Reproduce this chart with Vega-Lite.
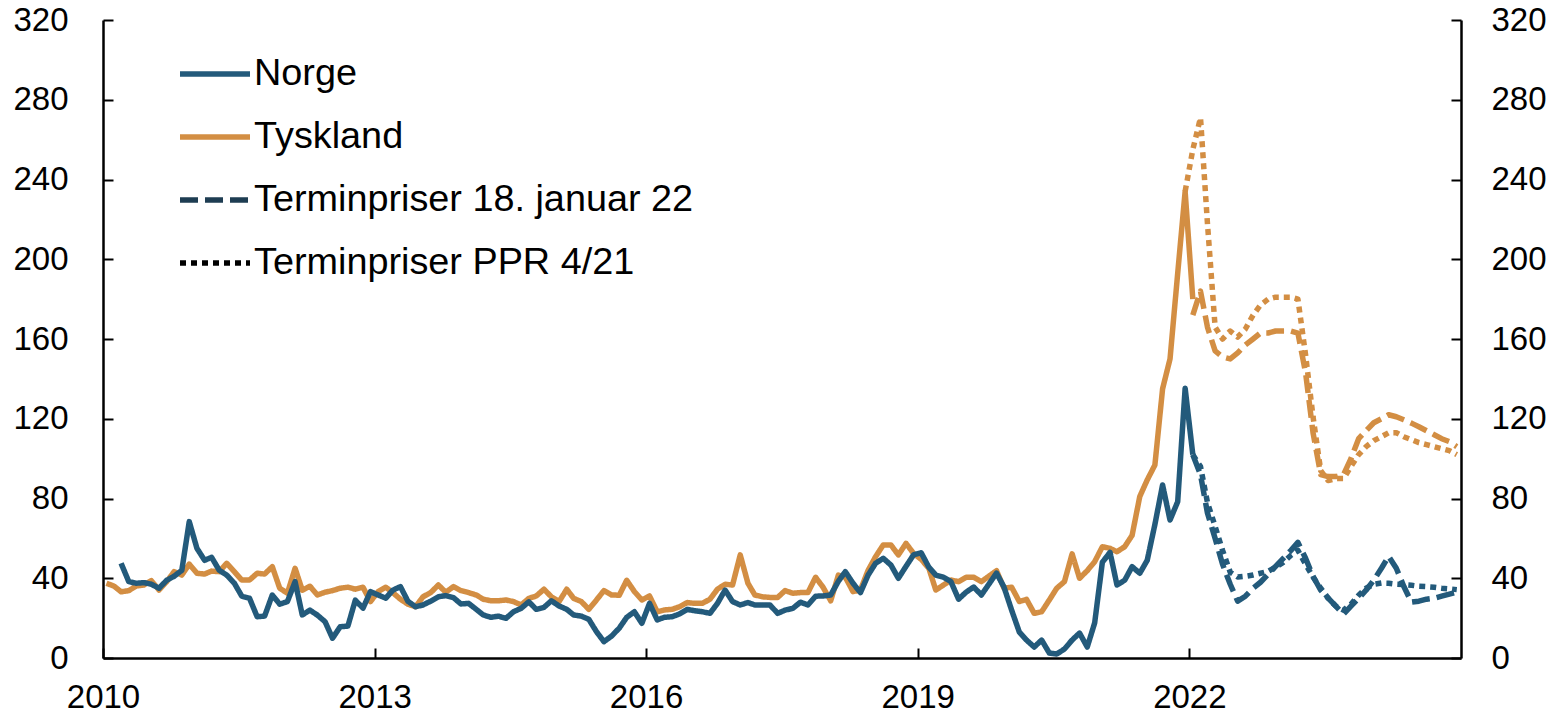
{
"$schema": "https://vega.github.io/schema/vega-lite/v6.json",
"width": 1358, "height": 638,
"autosize": {"type": "none"},
"padding": {"left": 103, "top": 20, "right": 98, "bottom": 59},
"background": "white",
"config": {"view": {"stroke": null}, "font": "Liberation Sans"},
"datasets": {"map": [
 {"key": "Norge", "land": "Norge", "kat": "Norge"},
 {"key": "Tyskland", "land": "Tyskland", "kat": "Tyskland"},
 {"key": "NO_jan", "land": "Norge", "kat": "Terminpriser 18. januar 22"},
 {"key": "DE_jan", "land": "Tyskland", "kat": "Terminpriser 18. januar 22"},
 {"key": "NO_ppr", "land": "Norge", "kat": "Terminpriser PPR 4/21"},
 {"key": "DE_ppr", "land": "Tyskland", "kat": "Terminpriser PPR 4/21"}
]},
"data": {"values": [
{"d":"2010-01-15","Tyskland":37.5},
{"d":"2010-02-15","Tyskland":36},
{"d":"2010-03-15","Norge":47.5,"Tyskland":33.2},
{"d":"2010-04-15","Norge":38.3,"Tyskland":33.8},
{"d":"2010-05-15","Norge":37.5,"Tyskland":36.1},
{"d":"2010-06-15","Norge":37.8,"Tyskland":36.6},
{"d":"2010-07-15","Norge":37,"Tyskland":38.8},
{"d":"2010-08-15","Norge":35,"Tyskland":34.1},
{"d":"2010-09-15","Norge":39,"Tyskland":38.3},
{"d":"2010-10-15","Norge":41,"Tyskland":43.3},
{"d":"2010-11-15","Norge":44,"Tyskland":41.6},
{"d":"2010-12-15","Norge":68.4,"Tyskland":47.1},
{"d":"2011-01-15","Norge":55,"Tyskland":42.5},
{"d":"2011-02-15","Norge":49,"Tyskland":42.1},
{"d":"2011-03-15","Norge":50.5,"Tyskland":43.6},
{"d":"2011-04-15","Norge":44,"Tyskland":43.3},
{"d":"2011-05-15","Norge":41.6,"Tyskland":47.5},
{"d":"2011-06-15","Norge":37.5,"Tyskland":43.3},
{"d":"2011-07-15","Norge":31,"Tyskland":39.1},
{"d":"2011-08-15","Norge":30,"Tyskland":39.1},
{"d":"2011-09-15","Norge":20.7,"Tyskland":42.5},
{"d":"2011-10-15","Norge":21,"Tyskland":42.1},
{"d":"2011-11-15","Norge":31.6,"Tyskland":45.8},
{"d":"2011-12-15","Norge":27,"Tyskland":35},
{"d":"2012-01-15","Norge":28.3,"Tyskland":32.5},
{"d":"2012-02-15","Norge":38.3,"Tyskland":45},
{"d":"2012-03-15","Norge":21.6,"Tyskland":34},
{"d":"2012-04-15","Norge":24,"Tyskland":36},
{"d":"2012-05-15","Norge":21.5,"Tyskland":31.6},
{"d":"2012-06-15","Norge":18.2,"Tyskland":33},
{"d":"2012-07-15","Norge":9.9,"Tyskland":33.8},
{"d":"2012-08-15","Norge":15.7,"Tyskland":35},
{"d":"2012-09-15","Norge":16,"Tyskland":35.5},
{"d":"2012-10-15","Norge":29,"Tyskland":34.5},
{"d":"2012-11-15","Norge":25,"Tyskland":35.5},
{"d":"2012-12-15","Norge":33.3,"Tyskland":28.3},
{"d":"2013-01-15","Norge":31.6,"Tyskland":33.3},
{"d":"2013-02-15","Norge":30,"Tyskland":35.5},
{"d":"2013-03-15","Norge":34,"Tyskland":32.8},
{"d":"2013-04-15","Norge":35.8,"Tyskland":29.5},
{"d":"2013-05-15","Norge":28.5,"Tyskland":27},
{"d":"2013-06-15","Norge":25.7,"Tyskland":25.7},
{"d":"2013-07-15","Norge":26.6,"Tyskland":30.7},
{"d":"2013-08-15","Norge":28.5,"Tyskland":32.8},
{"d":"2013-09-15","Norge":30.7,"Tyskland":36.6},
{"d":"2013-10-15","Norge":31.3,"Tyskland":33},
{"d":"2013-11-15","Norge":30.3,"Tyskland":35.8},
{"d":"2013-12-15","Norge":27.1,"Tyskland":33.8},
{"d":"2014-01-15","Norge":27.4,"Tyskland":32.8},
{"d":"2014-02-15","Norge":24.4,"Tyskland":31.6},
{"d":"2014-03-15","Norge":21.6,"Tyskland":29.5},
{"d":"2014-04-15","Norge":20.4,"Tyskland":28.7},
{"d":"2014-05-15","Norge":21,"Tyskland":28.7},
{"d":"2014-06-15","Norge":19.9,"Tyskland":29.1},
{"d":"2014-07-15","Norge":23.2,"Tyskland":28.3},
{"d":"2014-08-15","Norge":24.9,"Tyskland":26.6},
{"d":"2014-09-15","Norge":28.2,"Tyskland":29.9},
{"d":"2014-10-15","Norge":24.4,"Tyskland":31.1},
{"d":"2014-11-15","Norge":25.4,"Tyskland":34.5},
{"d":"2014-12-15","Norge":28.7,"Tyskland":30.7},
{"d":"2015-01-15","Norge":26.1,"Tyskland":28.3},
{"d":"2015-02-15","Norge":24.4,"Tyskland":34.5},
{"d":"2015-03-15","Norge":21.6,"Tyskland":29.9},
{"d":"2015-04-15","Norge":21,"Tyskland":28.3},
{"d":"2015-05-15","Norge":19.4,"Tyskland":24.4},
{"d":"2015-06-15","Norge":13.2,"Tyskland":29.1},
{"d":"2015-07-15","Norge":8.2,"Tyskland":33.8},
{"d":"2015-08-15","Norge":11,"Tyskland":31.6},
{"d":"2015-09-15","Norge":15,"Tyskland":31.5},
{"d":"2015-10-15","Norge":20.4,"Tyskland":39},
{"d":"2015-11-15","Norge":23.2,"Tyskland":33.3},
{"d":"2015-12-15","Norge":17.4,"Tyskland":29.1},
{"d":"2016-01-15","Norge":27.4,"Tyskland":31.1},
{"d":"2016-02-15","Norge":19.1,"Tyskland":23.2},
{"d":"2016-03-15","Norge":20.4,"Tyskland":24.1},
{"d":"2016-04-15","Norge":20.7,"Tyskland":24.4},
{"d":"2016-05-15","Norge":22.1,"Tyskland":25.7},
{"d":"2016-06-15","Norge":24.4,"Tyskland":27.8},
{"d":"2016-07-15","Norge":23.7,"Tyskland":27.4},
{"d":"2016-08-15","Norge":23.2,"Tyskland":27.4},
{"d":"2016-09-15","Norge":22.4,"Tyskland":29.5},
{"d":"2016-10-15","Norge":27.4,"Tyskland":34.5},
{"d":"2016-11-15","Norge":34.1,"Tyskland":37},
{"d":"2016-12-15","Norge":28.3,"Tyskland":36.6},
{"d":"2017-01-15","Norge":26.6,"Tyskland":51.7},
{"d":"2017-02-15","Norge":27.8,"Tyskland":37.5},
{"d":"2017-03-15","Norge":26.6,"Tyskland":31.6},
{"d":"2017-04-15","Norge":26.6,"Tyskland":30.7},
{"d":"2017-05-15","Norge":26.6,"Tyskland":30.4},
{"d":"2017-06-15","Norge":22.4,"Tyskland":30.4},
{"d":"2017-07-15","Norge":24,"Tyskland":33.8},
{"d":"2017-08-15","Norge":24.9,"Tyskland":32.5},
{"d":"2017-09-15","Norge":28,"Tyskland":32.8},
{"d":"2017-10-15","Norge":26.6,"Tyskland":32.8},
{"d":"2017-11-15","Norge":31,"Tyskland":40.5},
{"d":"2017-12-15","Norge":31.1,"Tyskland":35.5},
{"d":"2018-01-15","Norge":31.6,"Tyskland":28.7},
{"d":"2018-02-15","Norge":38.5,"Tyskland":41.6},
{"d":"2018-03-15","Norge":43.3,"Tyskland":40.5},
{"d":"2018-04-15","Norge":37.5,"Tyskland":33.3},
{"d":"2018-05-15","Norge":32.8,"Tyskland":34.1},
{"d":"2018-06-15","Norge":41.6,"Tyskland":44},
{"d":"2018-07-15","Norge":47.5,"Tyskland":50.8},
{"d":"2018-08-15","Norge":50,"Tyskland":56.7},
{"d":"2018-09-15","Norge":46.6,"Tyskland":56.7},
{"d":"2018-10-15","Norge":40,"Tyskland":51.7},
{"d":"2018-11-15","Norge":46,"Tyskland":57.5},
{"d":"2018-12-15","Norge":51.7,"Tyskland":52.5},
{"d":"2019-01-15","Norge":52.8,"Tyskland":49.5},
{"d":"2019-02-15","Norge":45.5,"Tyskland":45},
{"d":"2019-03-15","Norge":41.6,"Tyskland":34.1},
{"d":"2019-04-15","Norge":40.5,"Tyskland":36.6},
{"d":"2019-05-15","Norge":38.3,"Tyskland":39.1},
{"d":"2019-06-15","Norge":29.5,"Tyskland":38.3},
{"d":"2019-07-15","Norge":33,"Tyskland":40.5},
{"d":"2019-08-15","Norge":35.6,"Tyskland":40.5},
{"d":"2019-09-15","Norge":31.6,"Tyskland":38.3},
{"d":"2019-10-15","Norge":37,"Tyskland":41},
{"d":"2019-11-15","Norge":42.6,"Tyskland":43.8},
{"d":"2019-12-15","Norge":35.6,"Tyskland":35},
{"d":"2020-01-15","Norge":24,"Tyskland":35.5},
{"d":"2020-02-15","Norge":13,"Tyskland":28.3},
{"d":"2020-03-15","Norge":9,"Tyskland":29.4},
{"d":"2020-04-15","Norge":5.5,"Tyskland":22.4},
{"d":"2020-05-15","Norge":9,"Tyskland":23.2},
{"d":"2020-06-15","Norge":2.5,"Tyskland":29.1},
{"d":"2020-07-15","Norge":2,"Tyskland":35},
{"d":"2020-08-15","Norge":4.5,"Tyskland":38.3},
{"d":"2020-09-15","Norge":9,"Tyskland":52.2},
{"d":"2020-10-15","Norge":12.5,"Tyskland":40},
{"d":"2020-11-15","Norge":5.5,"Tyskland":43.8},
{"d":"2020-12-15","Norge":17.6,"Tyskland":48.3},
{"d":"2021-01-15","Norge":48,"Tyskland":55.8},
{"d":"2021-02-15","Norge":53,"Tyskland":55},
{"d":"2021-03-15","Norge":36.6,"Tyskland":53.3},
{"d":"2021-04-15","Norge":39,"Tyskland":55.8},
{"d":"2021-05-15","Norge":45.8,"Tyskland":61.5},
{"d":"2021-06-15","Norge":42.5,"Tyskland":81},
{"d":"2021-07-15","Norge":49,"Tyskland":89.3},
{"d":"2021-08-15","Norge":67,"Tyskland":96.8},
{"d":"2021-09-15","Norge":86.8,"Tyskland":135},
{"d":"2021-10-15","Norge":69.2,"Tyskland":150},
{"d":"2021-11-15","Norge":78.4,"Tyskland":193},
{"d":"2021-12-15","Norge":135.3,"Tyskland":234,"DE_ppr":234},
{"d":"2022-01-15","Norge":102,"Tyskland":180,"NO_jan":102,"DE_jan":172,"NO_ppr":102,"DE_ppr":255},
{"d":"2022-02-15","NO_jan":92,"DE_jan":184,"NO_ppr":96,"DE_ppr":271},
{"d":"2022-03-15","NO_jan":72.7,"DE_jan":166,"NO_ppr":78,"DE_ppr":218},
{"d":"2022-04-15","NO_jan":60,"DE_jan":154,"NO_ppr":66,"DE_ppr":166},
{"d":"2022-05-15","NO_jan":47,"DE_jan":151,"NO_ppr":54,"DE_ppr":160},
{"d":"2022-06-15","NO_jan":37,"DE_jan":150,"NO_ppr":43,"DE_ppr":164},
{"d":"2022-07-15","NO_jan":28.5,"DE_jan":153,"NO_ppr":40.6,"DE_ppr":161},
{"d":"2022-08-15","NO_jan":31,"DE_jan":157,"NO_ppr":41,"DE_ppr":165},
{"d":"2022-09-15","NO_jan":35,"DE_jan":160,"NO_ppr":41.6,"DE_ppr":172},
{"d":"2022-10-15","NO_jan":38,"DE_jan":163,"NO_ppr":42.5,"DE_ppr":177},
{"d":"2022-11-15","NO_jan":42,"DE_jan":163,"NO_ppr":43.5,"DE_ppr":180},
{"d":"2022-12-15","NO_jan":46,"DE_jan":164,"NO_ppr":45.6,"DE_ppr":181},
{"d":"2023-01-15","NO_jan":50,"DE_jan":164,"NO_ppr":48,"DE_ppr":181},
{"d":"2023-02-15","NO_jan":54,"DE_jan":164,"NO_ppr":51.5,"DE_ppr":181},
{"d":"2023-03-15","NO_jan":58,"DE_jan":163,"NO_ppr":54,"DE_ppr":180},
{"d":"2023-04-15","NO_jan":50,"DE_jan":143,"NO_ppr":47,"DE_ppr":152},
{"d":"2023-05-15","NO_jan":41,"DE_jan":113,"NO_ppr":40.6,"DE_ppr":121},
{"d":"2023-06-15","NO_jan":34,"DE_jan":92,"NO_ppr":35,"DE_ppr":94},
{"d":"2023-07-15","NO_jan":30,"DE_jan":91,"NO_ppr":30,"DE_ppr":89},
{"d":"2023-08-15","NO_jan":26,"DE_jan":91,"NO_ppr":26,"DE_ppr":90},
{"d":"2023-09-15","NO_jan":22,"DE_jan":92,"NO_ppr":24,"DE_ppr":90},
{"d":"2023-10-15","NO_jan":26,"DE_jan":100,"NO_ppr":27,"DE_ppr":96},
{"d":"2023-11-15","NO_jan":30,"DE_jan":110,"NO_ppr":31.5,"DE_ppr":102},
{"d":"2023-12-15","NO_jan":34,"DE_jan":114,"NO_ppr":35,"DE_ppr":106},
{"d":"2024-01-15","NO_jan":39,"DE_jan":118,"NO_ppr":37,"DE_ppr":109},
{"d":"2024-02-15","NO_jan":45,"DE_jan":120,"NO_ppr":37.6,"DE_ppr":111},
{"d":"2024-03-15","NO_jan":51,"DE_jan":122,"NO_ppr":37.5,"DE_ppr":113},
{"d":"2024-04-15","NO_jan":45,"DE_jan":121,"NO_ppr":37,"DE_ppr":113},
{"d":"2024-05-15","NO_jan":36,"DE_jan":119.5,"NO_ppr":36.8,"DE_ppr":111},
{"d":"2024-06-15","NO_jan":28,"DE_jan":117.8,"NO_ppr":36.5,"DE_ppr":109.5},
{"d":"2024-07-15","NO_jan":28.5,"DE_jan":116,"NO_ppr":36,"DE_ppr":108},
{"d":"2024-08-15","NO_jan":29.5,"DE_jan":114,"NO_ppr":35.8,"DE_ppr":107},
{"d":"2024-09-15","NO_jan":30,"DE_jan":112,"NO_ppr":35.5,"DE_ppr":106},
{"d":"2024-10-15","NO_jan":31,"DE_jan":110,"NO_ppr":35,"DE_ppr":105},
{"d":"2024-11-15","NO_jan":32,"DE_jan":108.5,"NO_ppr":34.7,"DE_ppr":104},
{"d":"2024-12-15","NO_jan":33,"DE_jan":106,"NO_ppr":34.3,"DE_ppr":102}
]},
"transform": [
 {"fold": ["Norge", "Tyskland", "NO_jan", "DE_jan", "NO_ppr", "DE_ppr"], "as": ["key", "v"]},
 {"filter": "isValid(datum.v)"},
 {"lookup": "key", "from": {"data": {"name": "map"}, "key": "key", "fields": ["land", "kat"]}}
],
"layer": [
 {
  "mark": {"type": "line", "strokeWidth": 5.5, "strokeJoin": "round", "strokeCap": "butt"},
  "encoding": {
   "x": {"field": "d", "type": "temporal",
     "scale": {"type": "utc", "domain": [{"year": 2010, "month": 1, "date": 1, "utc": true}, {"year": 2025, "month": 1, "date": 1, "utc": true}]},
     "axis": {"title": null, "orient": "bottom", "format": "%Y", "grid": false,
       "values": [{"year": 2010, "month": 1, "date": 1, "utc": true}, {"year": 2013, "month": 1, "date": 1, "utc": true}, {"year": 2016, "month": 1, "date": 1, "utc": true}, {"year": 2019, "month": 1, "date": 1, "utc": true}, {"year": 2022, "month": 1, "date": 1, "utc": true}],
       "tickSize": -10, "tickWidth": 2, "tickColor": "#000000", "domainColor": "#000000", "domainWidth": 2.5,
       "labelFontSize": 33, "labelColor": "#000000", "labelPadding": 33, "labelFlush": false, "labelFont": "Liberation Sans"}},
   "y": {"field": "v", "type": "quantitative",
     "scale": {"domain": [0, 320], "nice": false},
     "axis": {"title": null, "orient": "left", "grid": false, "values": [0, 40, 80, 120, 160, 200, 240, 280, 320],
       "tickSize": -10, "tickWidth": 2, "tickColor": "#000000", "domainColor": "#000000", "domainWidth": 2.5,
       "labelFontSize": 33, "labelColor": "#000000", "labelPadding": 45, "labelFont": "Liberation Sans"}},
   "color": {"field": "land", "type": "nominal", "scale": {"domain": ["Norge", "Tyskland"], "range": ["#235A7B", "#D38E43"]}, "legend": null},
   "strokeDash": {"field": "kat", "type": "nominal",
     "scale": {"domain": ["Norge", "Tyskland", "Terminpriser 18. januar 22", "Terminpriser PPR 4/21"], "range": [[1, 0], [1, 0], [18, 7], [6, 5]]},
     "legend": {"title": null, "orient": "none", "legendX": 74, "legendY": 16,
       "symbolType": "stroke", "symbolSize": 4900, "symbolStrokeWidth": 5.5,
       "labelFontSize": 37.8, "labelFont": "Liberation Sans", "labelColor": "#000000", "labelOffset": 1, "rowPadding": 6, "labelLimit": 0,
       "encode": {"symbols": {"update": {"stroke": [
         {"test": "datum.value === 'Norge'", "value": "#235A7B"},
         {"test": "datum.value === 'Tyskland'", "value": "#D38E43"},
         {"test": "datum.value === 'Terminpriser 18. januar 22'", "value": "#1E3D52"},
         {"value": "#000000"}]}}}}},
   "detail": {"field": "key", "type": "nominal"}
  }
 },
 {
  "mark": {"type": "line", "opacity": 0},
  "encoding": {
   "x": {"field": "d", "type": "temporal"},
   "y": {"field": "v", "type": "quantitative",
     "axis": {"title": null, "orient": "right", "grid": false, "values": [0, 40, 80, 120, 160, 200, 240, 280, 320],
       "tickSize": -10, "tickWidth": 2, "tickColor": "#000000", "domainColor": "#000000", "domainWidth": 2.5,
       "labelFontSize": 33, "labelColor": "#000000", "labelPadding": 40, "labelFont": "Liberation Sans"}},
   "detail": {"field": "key", "type": "nominal"}
  }
 }
],
"resolve": {"axis": {"y": "independent"}}
}
